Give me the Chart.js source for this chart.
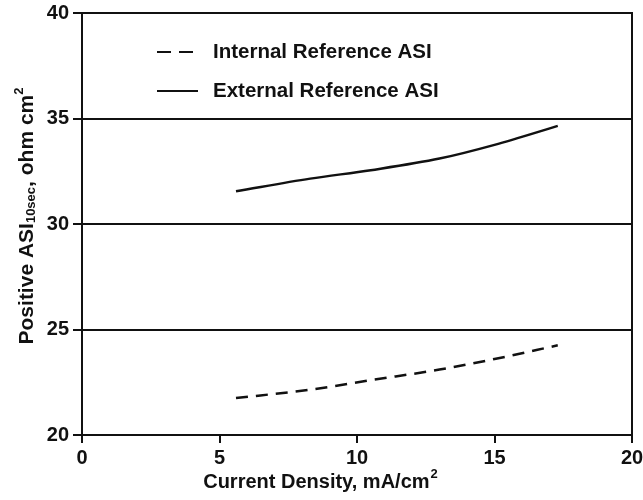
<!DOCTYPE html>
<html>
<head>
<meta charset="utf-8">
<script src="https://cdn.jsdelivr.net/npm/chart.js@4"></script>
<style>
  html, body { margin:0; padding:0; background:#fff; }
  #wrap { width:643px; height:500px; }
</style>
</head>
<body>
<div id="wrap"><canvas id="chart" width="643" height="500"></canvas></div>
<script>
// data
const currentDensity = [5.6, 8.3, 10.5, 13.0, 15.0, 17.3];
const internalASI = [21.75, 22.15, 22.6, 23.1, 23.6, 24.25];
const externalASI = [31.55, 32.15, 32.55, 33.1, 33.75, 34.65];
const xTicks = [0, 5, 10, 15, 20];
const yTicks = [20, 25, 30, 35, 40];

const FONT = 'Liberation Sans, Arial, sans-serif';

const toPts = (xs, ys) => xs.map((x, i) => ({ x, y: ys[i] }));

// frame, legend and axis titles (titles need sub/superscripts)
const extras = {
  id: 'extras',
  afterDraw(chart) {
    const { ctx, chartArea: a } = chart;
    ctx.save();
    ctx.strokeStyle = '#111';
    ctx.lineWidth = 2;
    ctx.strokeRect(a.left, a.top, a.right - a.left, a.bottom - a.top);

    // legend
    ctx.fillStyle = '#111';
    ctx.font = 'bold 20.5px ' + FONT;
    ctx.textBaseline = 'middle';
    ctx.textAlign = 'left';
    const rows = [
      { label: 'Internal Reference ASI', dash: [14, 8], y: 52 },
      { label: 'External Reference ASI', dash: [], y: 91 }
    ];
    rows.forEach(r => {
      ctx.beginPath();
      ctx.setLineDash(r.dash);
      ctx.lineWidth = 2;
      ctx.moveTo(157, r.y);
      ctx.lineTo(198, r.y);
      ctx.stroke();
      ctx.setLineDash([]);
      ctx.fillText(r.label, 213, r.y);
    });

    // x title
    ctx.font = 'bold 20px ' + FONT;
    const xt = 'Current Density, mA/cm';
    const w1 = ctx.measureText(xt).width;
    ctx.font = 'bold 13px ' + FONT;
    const w2 = ctx.measureText('2').width;
    let x0 = 320 - (w1 + w2) / 2;
    ctx.font = 'bold 20px ' + FONT;
    ctx.textBaseline = 'alphabetic';
    ctx.fillText(xt, x0, 488);
    ctx.font = 'bold 13px ' + FONT;
    ctx.fillText('2', x0 + w1 + 1, 478);

    // y title, rotated
    ctx.translate(27, 216);
    ctx.rotate(-Math.PI / 2);
    const parts = [
      { t: 'Positive ASI', f: 21, dy: 0 },
      { t: '10sec', f: 13, dy: 2 },
      { t: ', ohm cm', f: 21, dy: 0 },
      { t: '2', f: 13, dy: -10 }
    ];
    let total = 0;
    parts.forEach(p => { ctx.font = 'bold ' + p.f + 'px ' + FONT; p.w = ctx.measureText(p.t).width; total += p.w; });
    let px = -total / 2;
    parts.forEach(p => {
      ctx.font = 'bold ' + p.f + 'px ' + FONT;
      ctx.fillText(p.t, px, 6 + p.dy);
      px += p.w;
    });
    ctx.restore();
  }
};

new Chart(document.getElementById('chart'), {
  type: 'line',
  data: {
    datasets: [
      { label: 'Internal Reference ASI', data: toPts(currentDensity, internalASI),
        borderColor: '#111', borderWidth: 2.5, borderDash: [12, 8], pointRadius: 0, tension: 0.4, cubicInterpolationMode: 'monotone' },
      { label: 'External Reference ASI', data: toPts(currentDensity, externalASI),
        borderColor: '#111', borderWidth: 2.5, pointRadius: 0, tension: 0.4, cubicInterpolationMode: 'monotone' }
    ]
  },
  options: {
    responsive: false,
    animation: false,
    layout: { padding: { top: 13, right: 11, left: 0, bottom: 0 } },
    plugins: { legend: { display: false }, tooltip: { enabled: false } },
    scales: {
      x: {
        type: 'linear', min: 0, max: 20,
        afterBuildTicks: s => { s.ticks = xTicks.map(v => ({ value: v })); },
        afterFit: s => { s.height = 65; s.paddingLeft = 0; s.paddingRight = 0; },
        grid: { drawOnChartArea: false, color: '#111', lineWidth: 2, tickLength: 8 },
        border: { color: '#111', width: 2 },
        ticks: { color: '#111', font: { family: FONT, size: 20, weight: 'bold' }, padding: 3, maxRotation: 0 }
      },
      y: {
        type: 'linear', min: 20, max: 40,
        afterBuildTicks: s => { s.ticks = yTicks.map(v => ({ value: v })); },
        afterFit: s => { s.width = 82; s.paddingTop = 0; s.paddingBottom = 0; },
        grid: { color: '#111', lineWidth: 2, tickLength: 9 },
        border: { color: '#111', width: 2 },
        ticks: { color: '#111', font: { family: FONT, size: 20, weight: 'bold' }, padding: 4 }
      }
    }
  },
  plugins: [extras]
});
</script>
</body>
</html>
